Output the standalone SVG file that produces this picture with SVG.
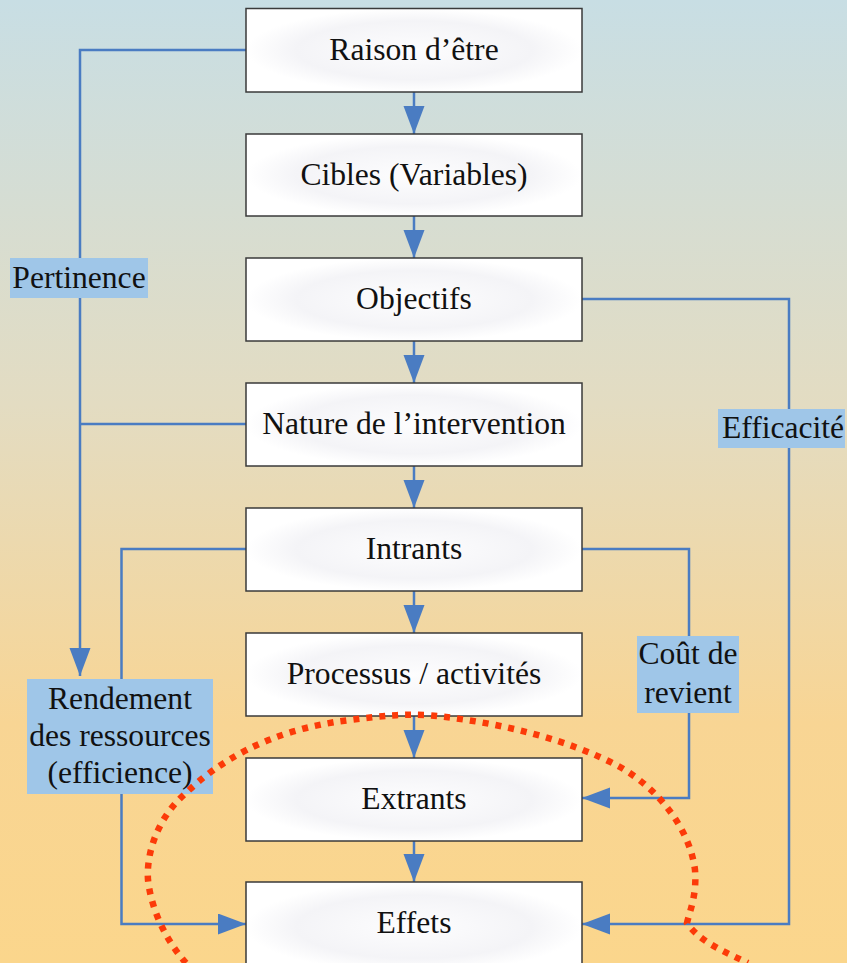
<svg xmlns="http://www.w3.org/2000/svg" width="847" height="963" viewBox="0 0 847 963">
<defs>
<linearGradient id="bg" x1="0" y1="0" x2="0" y2="1">
<stop offset="0" stop-color="#c8dee4"/>
<stop offset="0.42" stop-color="#e3dcc2"/>
<stop offset="0.75" stop-color="#f8d594"/>
<stop offset="1" stop-color="#fbd68c"/>
</linearGradient>
<radialGradient id="boxfill" cx="0.5" cy="0.5" r="0.5">
<stop offset="0" stop-color="#fdfdfe"/>
<stop offset="0.7" stop-color="#f4f4f7"/>
<stop offset="1" stop-color="#ffffff"/>
</radialGradient>
<marker id="arr" markerUnits="userSpaceOnUse" markerWidth="29" markerHeight="22" refX="28" refY="10.5" orient="auto">
<path d="M0,0 L28,10.5 L0,21 Z" fill="#4a7cc2"/>
</marker>
<style>
.box{fill:url(#boxfill);stroke:#3a3a3a;stroke-width:1.5}
.t{font-family:'Liberation Serif','Times New Roman','DejaVu Serif',serif;font-size:31.6px;fill:#111;text-anchor:middle}
.lab{fill:#9fc6e8}
.c{fill:none;stroke:#4a7cc2;stroke-width:2.5}
.ca{fill:none;stroke:#4a7cc2;stroke-width:2.5;marker-end:url(#arr)}
</style>
</defs>
<rect x="0" y="0" width="847" height="963" fill="url(#bg)"/>

<g id="connectors">
<line class="ca" x1="414" y1="92" x2="414" y2="134"/>
<line class="ca" x1="414" y1="216" x2="414" y2="258"/>
<line class="ca" x1="414" y1="341" x2="414" y2="383"/>
<line class="ca" x1="414" y1="466" x2="414" y2="508"/>
<line class="ca" x1="414" y1="591" x2="414" y2="633"/>
<line class="ca" x1="414" y1="716" x2="414" y2="758"/>
<line class="ca" x1="414" y1="841" x2="414" y2="882"/>
<polyline class="ca" points="246,50 80,50 80,676"/>
<line class="c" x1="246" y1="424" x2="80" y2="424"/>
<polyline class="c" points="246,549 121.5,549 121.5,680"/>
<polyline class="ca" points="121.5,794 121.5,924 246,924"/>
<polyline class="ca" points="582,549 689,549 689,798 582,798"/>
<polyline class="ca" points="582,299 789,299 789,924 582,924"/>
</g>

<g id="raison"><rect class="box" x="246" y="8.5" width="336" height="83.5"/><text class="t" x="414" y="59.5">Raison d’être</text></g>
<g id="cibles"><rect class="box" x="246" y="134" width="336" height="82"/><text class="t" x="414" y="184.5">Cibles (Variables)</text></g>
<g id="objectifs"><rect class="box" x="246" y="258" width="336" height="83"/><text class="t" x="414" y="308.5">Objectifs</text></g>
<g id="nature"><rect class="box" x="246" y="383" width="336" height="83"/><text class="t" x="414" y="434">Nature de l’intervention</text></g>
<g id="intrants"><rect class="box" x="246" y="508" width="336" height="83"/><text class="t" x="414" y="559">Intrants</text></g>
<g id="processus"><rect class="box" x="246" y="633" width="336" height="83"/><text class="t" x="414" y="684">Processus / activités</text></g>
<g id="extrants"><rect class="box" x="246" y="758" width="336" height="83"/><text class="t" x="414" y="809">Extrants</text></g>
<g id="effets"><rect class="box" x="246" y="882" width="336" height="90"/><text class="t" x="414" y="933">Effets</text></g>

<g id="pertinence"><rect class="lab" x="10" y="258" width="138" height="40"/><text class="t" x="79" y="287.5">Pertinence</text></g>
<g id="efficacite"><rect class="lab" x="718" y="409" width="127" height="39"/><text class="t" x="783" y="438">Efficacité</text></g>
<g id="rendement"><rect class="lab" x="27" y="679" width="186" height="115"/>
<text class="t" x="120" y="709">Rendement</text>
<text class="t" x="120" y="746">des ressources</text>
<text class="t" x="120" y="783">(efficience)</text></g>
<g id="cout"><rect class="lab" x="637" y="636" width="102" height="77"/>
<text class="t" x="688" y="664">Coût de</text>
<text class="t" x="688" y="703">revient</text></g>

<path d="M186,963 C170,945 152,915 148,880 C146,850 160,815 186,793 C215,765 265,730 350,720 C380,716 400,714 427,715 C500,722 570,740 620,767 C660,790 690,830 695,870 C697,895 690,910 687,923 C700,942 725,952 748,963" fill="none" stroke="#fc3a08" stroke-width="6.5" stroke-dasharray="6 7"/>
</svg>
